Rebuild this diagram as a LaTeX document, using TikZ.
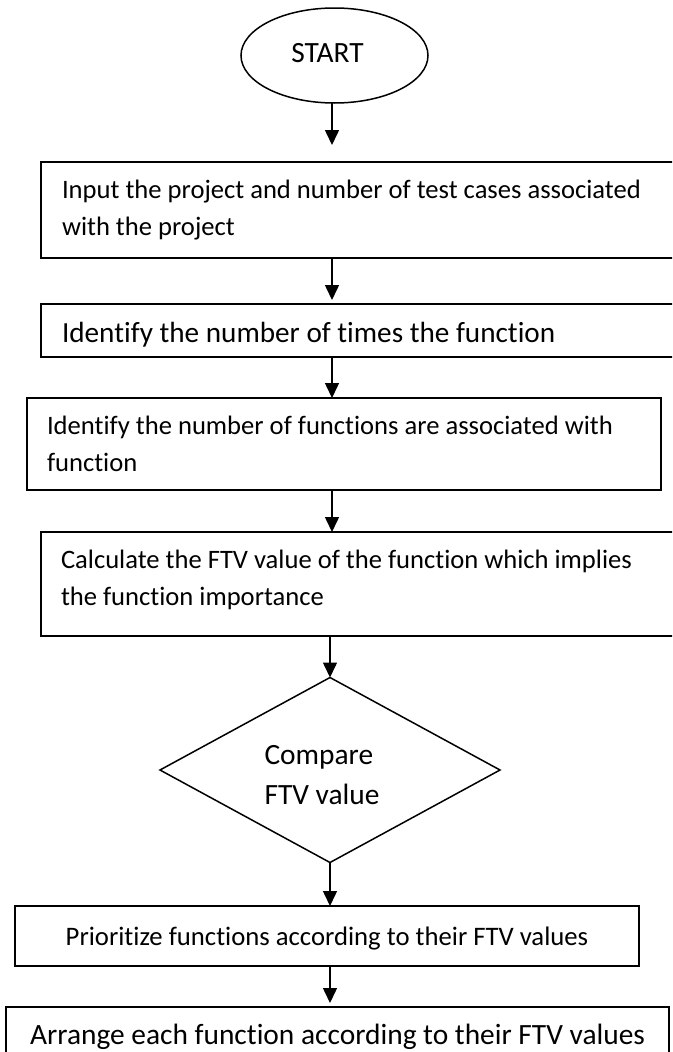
\documentclass[tikz,border=0pt]{standalone}
\usepackage{fontspec}
\setmainfont{Carlito}[Ligatures=NoCommon]
\usetikzlibrary{shapes.geometric,arrows.meta}
% move a line's ink without changing its box
\newcommand\liftby[2]{\raisebox{#1}[\height][\depth]{#2}}
\begin{document}
\begin{tikzpicture}[x=1pt,y=-1pt,
  every node/.style={inner sep=0pt, outer sep=0pt},
  stepbox/.style={draw, line width=1.5pt, rectangle, anchor=north west, align=left,
    execute at begin node={\spaceskip=0pt\relax\xspaceskip=0pt\relax}},
  midbox/.style={draw, line width=1.5pt, rectangle, align=center},
  conn/.style={line width=1.5pt, -{Triangle[width=14pt,length=15pt]}},
  txtS/.style={font=\fontsize{26.6}{37}\selectfont},
  txtM/.style={font=\fontsize{26.7}{37}\selectfont},
  txtL/.style={font=\fontsize{29.2}{40}\selectfont},
  txtX/.style={font=\fontsize{29.4}{40}\selectfont}]

% page area
\clip (0,0) rectangle (672,1052);
\fill[white] (0,0) rectangle (672,1052);

% terminal
\node[draw, line width=1.5pt, ellipse, minimum width=187pt, minimum height=95pt,
  label={[txtX, xshift=-7pt, yshift=2pt]center:START}]
  (start) at (334.5,55.5) {};

% process steps
\node[stepbox, txtS, minimum width=679pt, minimum height=96pt, text width=637pt, inner xsep=21pt]
  (b1) at (41,162) {Input the project and number of test cases associated\\with the project};
\node[stepbox, txtL, minimum width=679pt, minimum height=53pt, text width=637pt, inner xsep=21pt]
  (b2) at (41,304) {\liftby{-4pt}{Identify the number of times the function}};
\node[stepbox, txtS, minimum width=634pt, minimum height=92pt, text width=594pt, inner xsep=20pt]
  (b3) at (27,398) {Identify the number of functions are associated with\\function};
\node[stepbox, txtS, minimum width=679pt, minimum height=104pt, text width=639pt, inner xsep=20pt]
  (b4) at (41,532) {\liftby{4pt}{Calculate the FTV value of the function which implies}\\
                    \liftby{4pt}{the function importance}};

% decision
\node[draw, line width=1.5pt, diamond, minimum width=340pt, minimum height=185pt,
  label={[txtX, align=left, xshift=-8pt, yshift=-5pt]center:Compare\\FTV value}]
  (cmp) at (330,770) {};

% final steps
\node[midbox, txtM, minimum width=624pt, minimum height=60pt] (b5) at (327,936)
  {\liftby{-3pt}{Prioritize functions according to their FTV values}};
\node[midbox, txtX, minimum width=663pt, minimum height=52pt] (b6) at (337.5,1033)
  {\liftby{-4pt}{Arrange each function according to their FTV values}};

% connectors
\coordinate (ax) at (332,0);
\draw[conn, shorten >=17pt] (start.south -| ax) -- (b1.north -| ax);
\draw[conn, shorten >=4pt] (b1.south -| ax) -- (b2.north -| ax);
\draw[conn] (b2.south -| ax) -- (b3.north -| ax);
\draw[conn] (b3.south -| ax) -- (b4.north -| ax);
\draw[conn] (b4.south -| cmp.north) -- (cmp.north);
\draw[conn] (cmp.south) -- (b5.north -| cmp.south);
\draw[conn, shorten >=4pt] (b5.south -| cmp.south) -- (b6.north -| cmp.south);
\end{tikzpicture}
\end{document}
